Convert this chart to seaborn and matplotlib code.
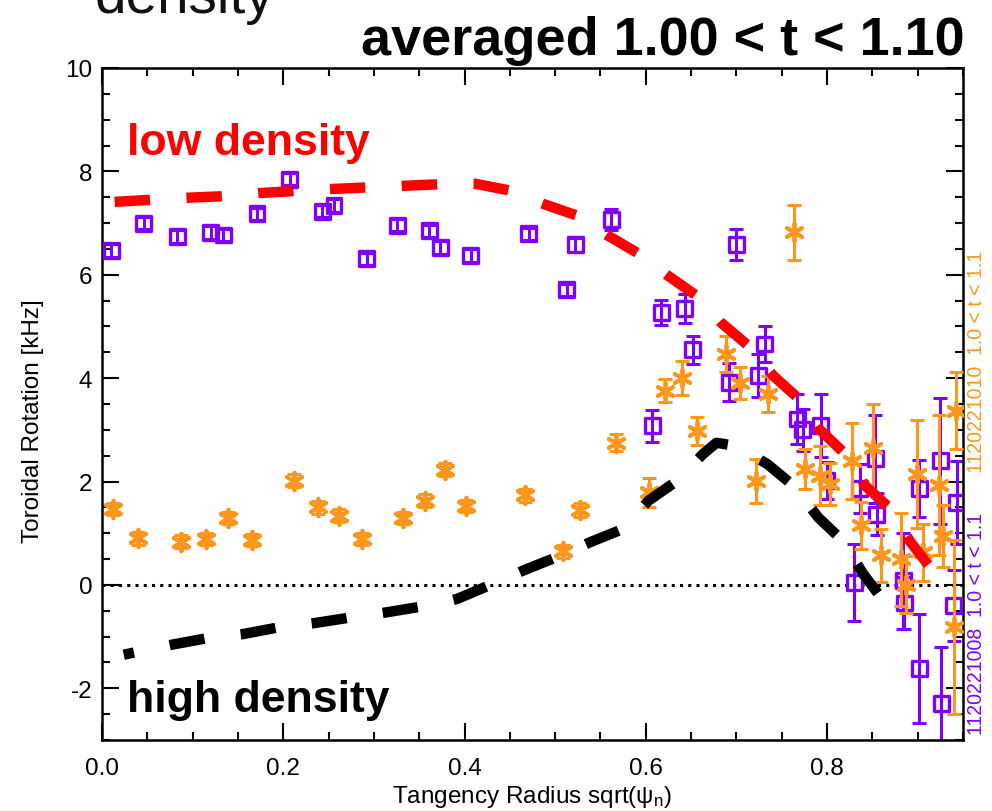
import numpy as np
import pandas as pd
import matplotlib
matplotlib.use("Agg")
import matplotlib.pyplot as plt
import seaborn as sns
from matplotlib import font_manager
from matplotlib.ticker import MultipleLocator
from matplotlib.transforms import Affine2D

# ---------------- data ----------------
# shot 1120221008 (purple squares)
p_x = [0.010, 0.046, 0.083, 0.120, 0.134, 0.171, 0.207, 0.243, 0.256, 0.292,
       0.326, 0.361, 0.373, 0.407, 0.471, 0.513, 0.522, 0.562, 0.607, 0.617,
       0.643, 0.652, 0.692, 0.700, 0.724, 0.731, 0.767, 0.773, 0.793, 0.800,
       0.830, 0.836, 0.853, 0.855, 0.884, 0.885, 0.902, 0.902, 0.925, 0.926,
       0.940, 0.943]
p_y = [6.47, 7.00, 6.74, 6.82, 6.77, 7.18, 7.85, 7.23, 7.34, 6.31,
       6.96, 6.85, 6.53, 6.37, 6.79, 5.71, 6.58, 7.07, 3.08, 5.27,
       5.34, 4.55, 3.92, 6.58, 4.05, 4.66, 3.21, 3.00, 3.08, 2.02,
       0.05, 1.86, 2.44, 1.37, 0.08, -0.35, -1.62, 1.86, 2.40, -2.30,
       -0.40, 1.59]
p_err = [0.12, 0.12, 0.12, 0.12, 0.12, 0.12, 0.12, 0.12, 0.12, 0.12,
         0.12, 0.12, 0.12, 0.12, 0.12, 0.12, 0.14, 0.21, 0.31, 0.25,
         0.28, 0.27, 0.37, 0.30, 0.42, 0.34, 0.48, 0.40, 0.61, 0.35,
         0.74, 0.47, 0.85, 0.40, 0.93, 0.50, 1.05, 0.55, 1.22, 1.10,
         0.68, 0.80]

# shot 1120221010 (orange asterisks)
o_x = [0.012, 0.040, 0.087, 0.115, 0.139, 0.165, 0.212, 0.238, 0.262, 0.287,
       0.332, 0.356, 0.379, 0.402, 0.467, 0.509, 0.527, 0.567, 0.603, 0.621,
       0.640, 0.656, 0.689, 0.704, 0.722, 0.735, 0.763, 0.776, 0.792, 0.803,
       0.827, 0.837, 0.851, 0.859, 0.882, 0.887, 0.899, 0.906, 0.924, 0.928,
       0.942, 0.940]
o_y = [1.47, 0.90, 0.84, 0.89, 1.30, 0.87, 2.02, 1.50, 1.34, 0.89,
       1.30, 1.63, 2.23, 1.53, 1.73, 0.65, 1.45, 2.75, 1.79, 3.76,
       4.00, 2.98, 4.47, 3.91, 2.01, 3.69, 6.82, 2.24, 2.11, 1.95,
       2.40, 1.15, 2.64, 0.57, 0.50, 0.00, 2.15, 0.63, 1.93, 0.95,
       3.37, -0.82]
o_err = [0.12, 0.12, 0.12, 0.12, 0.12, 0.12, 0.12, 0.12, 0.12, 0.12,
         0.12, 0.12, 0.12, 0.12, 0.12, 0.12, 0.14, 0.16, 0.28, 0.23,
         0.33, 0.27, 0.35, 0.31, 0.42, 0.35, 0.53, 0.39, 0.57, 0.40,
         0.74, 0.45, 0.86, 0.52, 0.90, 0.55, 1.05, 0.55, 1.35, 0.60,
         0.75, 1.68]

# low density profile (red dashed)
low_x = [0.014, 0.053, 0.094, 0.134, 0.173, 0.212, 0.254, 0.293, 0.332, 0.371,
         0.391, 0.412, 0.450, 0.487, 0.525, 0.557, 0.593, 0.623, 0.658, 0.682,
         0.715, 0.741, 0.769, 0.791, 0.822, 0.842, 0.870, 0.892, 0.917]
low_y = [7.41, 7.45, 7.49, 7.52, 7.58, 7.62, 7.66, 7.69, 7.72, 7.75,
         7.77, 7.76, 7.63, 7.37, 7.14, 6.77, 6.40, 6.00, 5.57, 5.09,
         4.60, 4.04, 3.60, 3.02, 2.50, 1.92, 1.47, 0.83, 0.27]

# high density profile (black dashed)
high_x = [0.024, 0.076, 0.116, 0.156, 0.195, 0.234, 0.274, 0.314, 0.352, 0.371,
          0.392, 0.427, 0.465, 0.502, 0.539, 0.566, 0.574, 0.603, 0.635, 0.663,
          0.678, 0.699, 0.734, 0.765, 0.790, 0.817, 0.840, 0.862]
high_y = [-1.35, -1.16, -1.03, -0.95, -0.82, -0.74, -0.63, -0.53, -0.42, -0.36,
          -0.27, -0.01, 0.28, 0.54, 0.83, 1.02, 1.08, 1.63, 2.02, 2.53,
          2.75, 2.69, 2.34, 1.89, 1.31, 0.86, 0.21, -0.30]

x_ticks = [0.0, 0.2, 0.4, 0.6, 0.8]
y_ticks = [-2, 0, 2, 4, 6, 8, 10]

PURPLE = "#7f00ff"
ORANGE = "#ff961c"
RED = "#ff0000"

# ---------------- style ----------------
sns.set_theme(style="ticks")
names = {f.name for f in font_manager.fontManager.ttflist}
NARROW = "Liberation Sans Narrow" if "Liberation Sans Narrow" in names else "Liberation Sans"
plt.rcParams["font.family"] = [NARROW, "Liberation Sans", "DejaVu Sans"]
plt.rcParams["mathtext.fontset"] = "custom"
plt.rcParams["mathtext.rm"] = NARROW
plt.rcParams["mathtext.it"] = NARROW
plt.rcParams["mathtext.default"] = "regular"

W, H = 992, 812
fig = plt.figure(figsize=(W / 100, H / 100), dpi=100)
L, R, T, B = 102, 963, 69, 741
ax = fig.add_axes([L / W, 1 - B / H, (R - L) / W, (B - T) / H])
ax.set_facecolor("white")

# zero reference line
ax.axhline(0, color="black", lw=2.2, linestyle=(0, (1, 1.7)), zorder=1)

# purple data
ax.errorbar(p_x, p_y, yerr=p_err, fmt="none", ecolor=PURPLE, elinewidth=2.2,
            capsize=5, capthick=2.2, zorder=2)
sns.scatterplot(x=p_x, y=p_y, marker="s", s=115, facecolor="none",
                edgecolor=PURPLE, linewidth=2.4, ax=ax, zorder=3)

# orange data
ax.errorbar(o_x, o_y, yerr=o_err, fmt="none", ecolor=ORANGE, elinewidth=2.2,
            capsize=5, capthick=2.2, zorder=4)
sns.scatterplot(x=o_x, y=o_y, marker=(6, 2, 0), s=160, color=ORANGE,
                linewidth=2.8, ax=ax, zorder=5)

# profiles
sns.lineplot(x=low_x, y=low_y, color=RED, lw=7.5, linestyle=(0, (3.4, 3.5)),
             sort=False, estimator=None, ax=ax, zorder=6)
sns.lineplot(x=high_x, y=high_y, color="black", lw=7.5,
             linestyle=(2.4, (3.4, 3.5)), sort=False, estimator=None, ax=ax, zorder=6)
for ln in ax.get_lines():
    ln.set_dash_capstyle("butt")

ax.set_xlim(0, 0.95)
ax.set_ylim(-3, 10)
ax.set_xticks(x_ticks)
ax.set_xticklabels([f"{v:.1f}" for v in x_ticks])
ax.set_yticks(y_ticks)
ax.set_yticklabels([str(v) for v in y_ticks])
ax.xaxis.set_minor_locator(MultipleLocator(0.05))
ax.yaxis.set_minor_locator(MultipleLocator(0.5))
ax.tick_params(which="both", direction="in", top=True, right=True,
               color="black", width=1.5, labelcolor="black")
ax.tick_params(which="major", length=12, labelsize=17.5)
ax.tick_params(which="minor", length=6)
ax.tick_params(axis="x", which="major", pad=12)
ax.tick_params(axis="y", which="major", pad=7)
for s in ax.spines.values():
    s.set_linewidth(1.8)
    s.set_color("black")
ax.grid(False)

ax.set_xlabel("Tangency Radius sqrt(ψ$_{n}$)", fontsize=17.5, color="black")
ax.set_ylabel("Toroidal Rotation [kHz]", fontsize=17.5, color="black")
ax.xaxis.label.set_va("center")
ax.yaxis.label.set_va("center")
ax.xaxis.set_label_coords(0.5, (B - 797) / (B - T))
ax.yaxis.set_label_coords((33 - L) / (R - L), (B - 421) / (B - T))

# texts
title = fig.text(965 / W, 1 - 55 / H, "averaged 1.00 < t < 1.10", ha="right",
                 va="baseline", fontsize=36, fontweight="bold", color="black")
top_left = fig.text(95 / W, 1 - 13 / H, "density", ha="left", va="baseline",
                    fontsize=36, color="#111111")
pix = Affine2D().scale(1, -1).translate(0, H)
low_t = fig.text(127, 155, "low density", transform=pix, ha="left",
                 va="baseline", fontsize=30, fontweight="bold", color=RED)
high_t = fig.text(127, 712, "high density", transform=pix, ha="left",
                  va="baseline", fontsize=30, fontweight="bold", color="black")
lab_o = fig.text(976 / W, 1 - 362 / H, "1120221010  1.0 < t < 1.1", rotation=90,
                 ha="center", va="center", fontsize=13, color=ORANGE)
lab_p = fig.text(976 / W, 1 - 624 / H, "1120221008  1.0 < t < 1.1", rotation=90,
                 ha="center", va="center", fontsize=13, color=PURPLE)

fig.canvas.draw()
renderer = fig.canvas.get_renderer()


def fit(t, target, vertical=False):
    bb = t.get_window_extent(renderer)
    cur = bb.height if vertical else bb.width
    t.set_fontsize(t.get_fontsize() * target / cur)


fit(title, 603)
fit(top_left, 180)
fit(low_t, 243)
fit(high_t, 263)
fit(lab_o, 222, vertical=True)
fit(lab_p, 222, vertical=True)

fig.savefig("out.png", dpi=100, facecolor="white")
